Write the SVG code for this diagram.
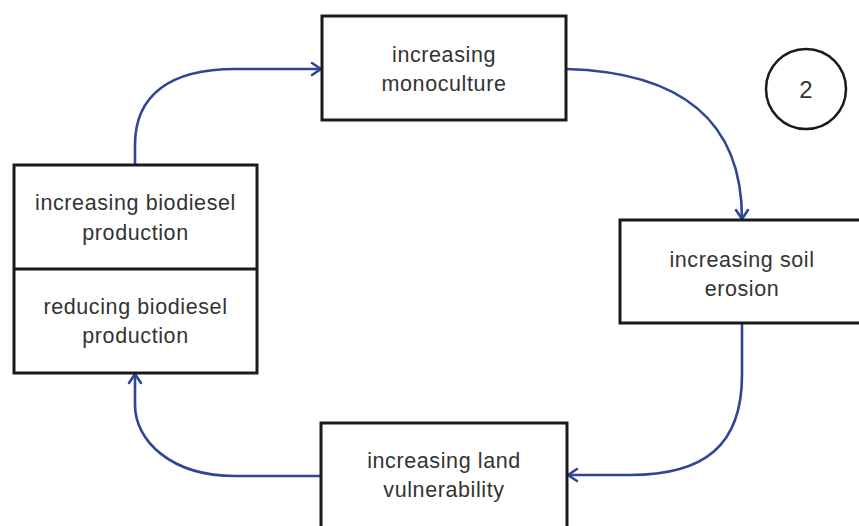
<svg xmlns="http://www.w3.org/2000/svg" width="859" height="526" viewBox="0 0 859 526">
<style>
.box{fill:#fff;stroke:#1a1a1a;stroke-width:3}
.lbl{font-family:"Liberation Sans",Arial,sans-serif;font-size:21.5px;letter-spacing:0.6px;fill:#333;text-anchor:middle}
.conn{fill:none;stroke:#2f4596;stroke-width:2.6}
</style>
<defs>
<marker id="arr" viewBox="0 0 16 16" refX="13" refY="8" markerWidth="16" markerHeight="16" markerUnits="userSpaceOnUse" orient="auto">
<path d="M4,2 L13,8 L4,14" fill="none" stroke="#2f4596" stroke-width="2.6" stroke-linecap="round" stroke-linejoin="round"/>
</marker>
</defs>
<rect width="859" height="526" fill="#fff"/>
<g id="connectors">
<path class="conn" marker-end="url(#arr)" d="M135,165 L135,145 C135,95 170,69 235,69 L321,69"/>
<path class="conn" marker-end="url(#arr)" d="M566,69 C680,72 742,120 742,219"/>
<path class="conn" marker-end="url(#arr)" d="M742,323 L742,375 C742,445 705,475 630,475 L568,475"/>
<path class="conn" marker-end="url(#arr)" d="M321,476 L235,476 C170,476 135,440 135,405 L135,374"/>
</g>
<g id="monoculture">
<rect class="box" x="322" y="16" width="244" height="104"/>
<text class="lbl" x="444" y="62">increasing</text>
<text class="lbl" x="444" y="91">monoculture</text>
</g>
<g id="soil-erosion">
<rect class="box" x="620" y="220" width="244" height="103"/>
<text class="lbl" x="742" y="267">increasing soil</text>
<text class="lbl" x="742" y="296">erosion</text>
</g>
<g id="land-vulnerability">
<rect class="box" x="321" y="423" width="246" height="110"/>
<text class="lbl" x="444" y="468">increasing land</text>
<text class="lbl" x="444" y="497">vulnerability</text>
</g>
<g id="biodiesel">
<rect class="box" x="14" y="165" width="243" height="208"/>
<line x1="14" y1="269" x2="257" y2="269" stroke="#1a1a1a" stroke-width="3"/>
<text class="lbl" x="135.5" y="210">increasing biodiesel</text>
<text class="lbl" x="135.5" y="240">production</text>
<text class="lbl" x="135.5" y="314">reducing biodiesel</text>
<text class="lbl" x="135.5" y="343">production</text>
</g>
<g id="label-2">
<circle cx="806" cy="89" r="40" fill="#fff" stroke="#1a1a1a" stroke-width="2.5"/>
<text x="806" y="98" font-family="&quot;Liberation Sans&quot;,Arial,sans-serif" font-size="24" fill="#333" text-anchor="middle">2</text>
</g>
</svg>
